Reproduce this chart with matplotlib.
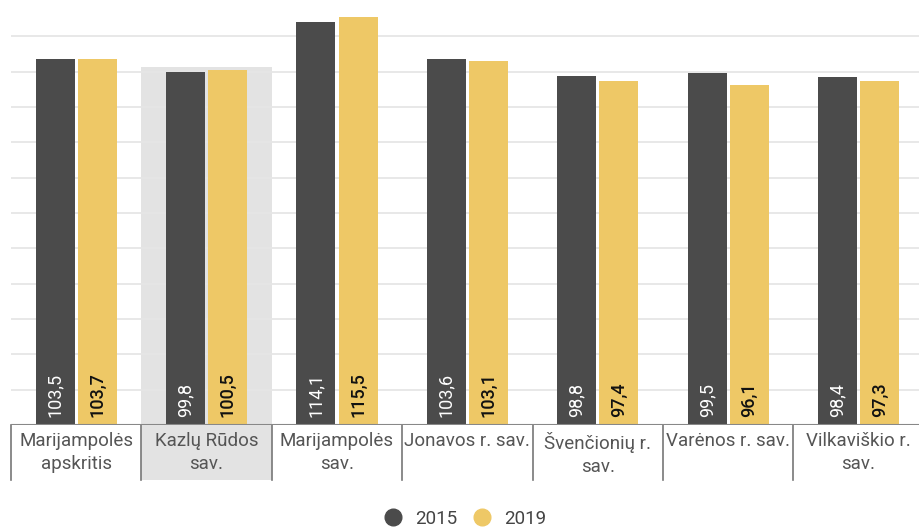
import matplotlib.pyplot as plt
from matplotlib.lines import Line2D
from matplotlib.patches import Rectangle
import numpy as np

plt.rcParams['font.family'] = ['Roboto', 'DejaVu Sans']

categories = ["Marijampolės\napskritis", "Kazlų Rūdos\nsav.", "Marijampolės\nsav.",
              "Jonavos r. sav.", "Švenčionių r.\nsav.", "Varėnos r. sav.",
              "Vilkaviškio r.\nsav."]
v2015 = [103.5, 99.8, 114.1, 103.6, 98.8, 99.5, 98.4]
v2019 = [103.7, 100.5, 115.5, 103.1, 97.4, 96.1, 97.3]
highlight = 1  # Kazlų Rūdos

dark = '#4b4b4b'
yellow = '#eec866'

fig = plt.figure(figsize=(9.2, 5.29), dpi=100)
ax = fig.add_axes([11/920, 104/529, 7*130.4/920, 424/529])

x = np.arange(len(categories))
w = 0.3
off = 0.162

# highlighted group background (reaches down into the label area)
hl_top = max(v2015[highlight], v2019[highlight]) + 0.9
ax.add_patch(Rectangle((highlight - 0.5, -15.6), 1.0, hl_top + 15.6,
                       facecolor='#e3e3e3', edgecolor='none', clip_on=False, zorder=0))

for yv in range(10, 120, 10):
    ax.axhline(yv, color='#e6e6e6', lw=1.3, zorder=0.5)

ax.bar(x - off, v2015, w, color=dark, zorder=2)
ax.bar(x + off, v2019, w, color=yellow, zorder=2)

for i in range(len(categories)):
    ax.text(x[i] - off, 2.2, f"{v2015[i]:.1f}".replace('.', ','), rotation=90,
            ha='center', va='bottom', color='white', fontsize=13, zorder=3)
    ax.text(x[i] + off, 2.2, f"{v2019[i]:.1f}".replace('.', ','), rotation=90,
            ha='center', va='bottom', color='#111111', fontsize=13,
            fontweight='medium', zorder=3)
    ax.text(x[i], -1.9, categories[i], ha='center', va='top', color='#555555',
            fontsize=13.5, linespacing=1.35, clip_on=False)

# separators between labels
for b in np.arange(-0.5, len(categories), 1.0):
    ax.plot([b, b], [0, -15.6], color='#777777', lw=1.2, clip_on=False, zorder=3)
ax.axhline(0, color='#888888', lw=1.5, zorder=3)

ax.set_xlim(-0.5, len(categories) - 0.5)
ax.set_ylim(0, 120)
for s in ax.spines.values():
    s.set_visible(False)
ax.set_xticks([])
ax.set_yticks([])

handles = [Line2D([], [], marker='o', ls='', color=dark, markersize=12),
           Line2D([], [], marker='o', ls='', color=yellow, markersize=12)]
fig.legend(handles, ['2015', '2019'], loc='lower center', ncol=2, frameon=False,
           bbox_to_anchor=(0.5, -0.03), handletextpad=0.2, columnspacing=0.3,
           fontsize=13.5, labelcolor='#444444')

fig.savefig('out.png', dpi=100)
